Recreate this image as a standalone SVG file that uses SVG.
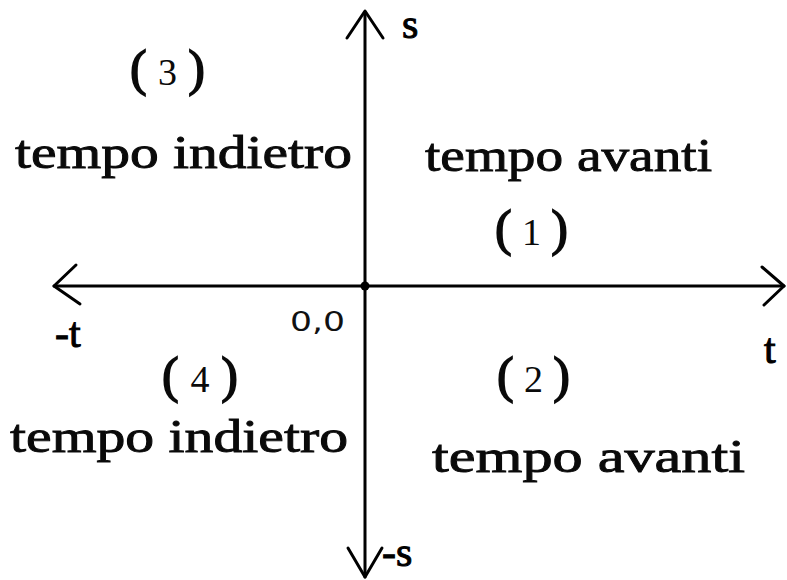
<svg xmlns="http://www.w3.org/2000/svg" width="787" height="580" viewBox="0 0 787 580">
<style>
.ax{fill:none;stroke:#000;stroke-width:3;stroke-linecap:round;stroke-linejoin:round}
.t{font-family:"Liberation Serif","DejaVu Serif",serif;font-size:46px;fill:#0a0a0a;stroke:#0a0a0a;stroke-width:0.9px}
.n{font-family:"Liberation Serif","DejaVu Serif",serif;font-size:38px;fill:#0a0a0a}
.p{font-size:50px;stroke:#0a0a0a;stroke-width:1.6px}
.s{font-family:"Liberation Serif","DejaVu Serif",serif;font-size:42px;fill:#000;stroke:#000;stroke-width:1px}
</style>
<rect width="787" height="580" fill="#fff"/>
<g id="connectors">
<line class="ax" x1="365" y1="12" x2="365" y2="577"/>
<line class="ax" x1="54" y1="286" x2="784" y2="286"/>
<polyline class="ax" points="347,38 365,11 383,38"/>
<polyline class="ax" points="348,548 365,577 382,548"/>
<polyline class="ax" points="76,265 54,286 80,304"/>
<polyline class="ax" points="762,267 784,286 764,305"/>
</g>
<g id="origin">
<circle cx="365" cy="286" r="4.5" fill="#000"/>
<text x="290" y="331" textLength="55" lengthAdjust="spacingAndGlyphs" style="font-family:'DejaVu Sans','Liberation Sans',sans-serif;font-size:26px;fill:#111">0,0</text>
</g>
<g id="axis-labels">
<text class="s" x="402" y="38">s</text>
<text class="s" x="382" y="566">-s</text>
<text class="s" x="55" y="347">-t</text>
<text class="s" x="764" y="363">t</text>
</g>
<g id="q3">
<text class="n" x="130" y="85" textLength="75" lengthAdjust="spacing"><tspan class="p">(</tspan>3<tspan class="p">)</tspan></text>
<text class="t" x="15" y="168" textLength="337" lengthAdjust="spacingAndGlyphs">tempo indietro</text>
</g>
<g id="q1">
<text class="t" x="425" y="171" textLength="287" lengthAdjust="spacingAndGlyphs">tempo avanti</text>
<text class="n" x="495" y="245" textLength="73" lengthAdjust="spacing"><tspan class="p">(</tspan>1<tspan class="p">)</tspan></text>
</g>
<g id="q4">
<text class="n" x="162" y="392" textLength="76" lengthAdjust="spacing"><tspan class="p">(</tspan>4<tspan class="p">)</tspan></text>
<text class="t" x="10" y="452" textLength="338" lengthAdjust="spacingAndGlyphs">tempo indietro</text>
</g>
<g id="q2">
<text class="n" x="497" y="392" textLength="73" lengthAdjust="spacing"><tspan class="p">(</tspan>2<tspan class="p">)</tspan></text>
<text class="t" x="432" y="472" textLength="313" lengthAdjust="spacingAndGlyphs">tempo avanti</text>
</g>
</svg>
